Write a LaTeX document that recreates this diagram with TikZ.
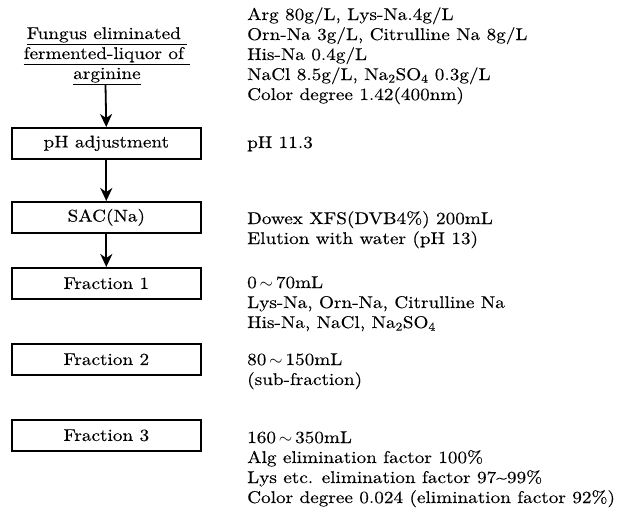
\documentclass[tikz,border=0pt]{standalone}
\usepackage{fontspec}
\setmainfont{lmroman10-regular.otf}[FakeStretch=1.13, FakeBold=0.25]
\usetikzlibrary{arrows.meta}
\begin{document}
\begin{tikzpicture}[x=1pt,y=-1pt,
  every node/.style={font=\fontsize{17}{20}\selectfont},
  procbox/.style={draw, line width=1.6pt, minimum width=189pt, minimum height=31pt, inner sep=0pt, anchor=north west},
  flow/.style={line width=1.8pt, -{Stealth[length=13pt,width=12pt,inset=4pt]}},
  note/.style={anchor=base west, inner sep=0pt}]
\useasboundingbox (0,0) rectangle (621,512);

\node[anchor=base, inner sep=0pt] (title) at (107,39) {\begin{tabular}[t]{@{}c@{}}
\underline{Fungus eliminated\ }\\
\underline{fermented-liquor of\ }\\
\underline{arginine}
\end{tabular}};

\node[procbox] (ph) at (11,127) {pH adjustment};
\node[procbox] (sac) at (11,201) {SAC(Na)};
\node[procbox] (f1) at (11,267) {Fraction 1};
\node[procbox] (f2) at (11,343) {Fraction 2};
\node[procbox] (f3) at (11,419) {Fraction 3};

\coordinate (tstart) at (105.5,85);
\draw[flow] (tstart) -- (ph.north);
\draw[flow] (ph.south) -- (sac.north);
\draw[flow] (sac.south) -- (f1.north);

\node[note] (n0) at (247,20) {\begin{tabular}[t]{@{}l@{}}
Arg 80g/L, Lys-Na.4g/L\\
Orn-Na 3g/L, Citrulline Na 8g/L\\
His-Na 0.4g/L\\
NaCl 8.5g/L, Na\textsubscript{2}SO\textsubscript{4} 0.3g/L\\
Color degree 1.42(400nm)
\end{tabular}};

\node[note] (n1) at (247,148) {pH 11.3};

\node[note] (n2) at (247,224) {\begin{tabular}[t]{@{}l@{}}
Dowex XFS(DVB4\%) 200mL\\
Elution with water (pH 13)
\end{tabular}};

\node[note] (n3) at (247,288) {\begin{tabular}[t]{@{}l@{}}
0\,$\sim$\,70mL\\
Lys-Na, Orn-Na, Citrulline Na\\
His-Na, NaCl, Na\textsubscript{2}SO\textsubscript{4}
\end{tabular}};

\node[note] (n4) at (247,365) {\begin{tabular}[t]{@{}l@{}}
80\,$\sim$\,150mL\\
(sub-fraction)
\end{tabular}};

\node[note] (n5) at (247,443) {\begin{tabular}[t]{@{}l@{}}
160\,$\sim$\,350mL\\
Alg elimination factor 100\%\\
Lys etc. elimination factor 97\textasciitilde99\%\\
Color degree 0.024 (elimination factor 92\%)
\end{tabular}};
\end{tikzpicture}
\end{document}
